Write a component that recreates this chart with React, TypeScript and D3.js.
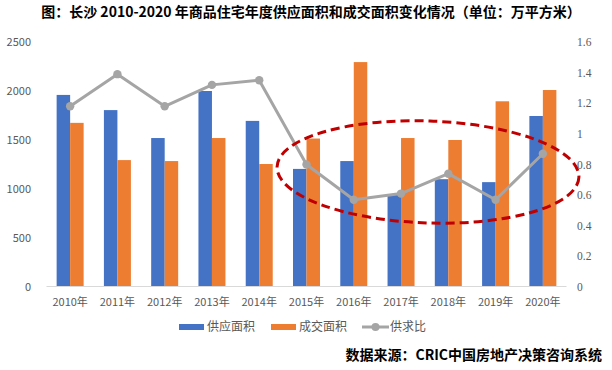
import React from 'react';
import * as d3 from 'd3';

const years = ['2010年', '2011年', '2012年', '2013年', '2014年', '2015年', '2016年', '2017年', '2018年', '2019年', '2020年'];
const supply = [1960, 1805, 1520, 2000, 1695, 1205, 1285, 940, 1100, 1070, 1745];
const deal = [1675, 1295, 1285, 1520, 1255, 1515, 2295, 1520, 1500, 1895, 2010];
const ratio = [1.18, 1.39, 1.18, 1.32, 1.35, 0.80, 0.57, 0.61, 0.74, 0.57, 0.87];
const leftTicks = [0, 500, 1000, 1500, 2000, 2500];
const rightTicks = [0, 0.2, 0.4, 0.6, 0.8, 1, 1.2, 1.4, 1.6];

const cjk = '"Noto Sans CJK SC", "Noto Sans", sans-serif';

const App = () => {
  const width = 612;
  const height = 370;
  const plot = { left: 46.5, right: 566.5, top: 42, bottom: 287 };

  const x = d3.scaleBand().domain(years).range([plot.left, plot.right]).paddingInner(0).paddingOuter(0);
  const yL = d3.scaleLinear().domain([0, 2500]).range([plot.bottom, plot.top]);
  const yR = d3.scaleLinear().domain([0, 1.6]).range([plot.bottom, plot.top]);
  const barW = 13.5;

  const line = d3.line<number>()
    .x((_, i) => (x(years[i]) as number) + x.bandwidth() / 2)
    .y(d => yR(d));

  const fmtR = (v: number) => (v === 0 || v === 1 ? String(v) : v.toFixed(1));

  return (
    <svg width={width} height={height} style={{ position: 'absolute', left: 0, top: 0, background: '#fff' }}>
      <text x={311} y={17} textAnchor="middle" fontFamily={cjk} fontWeight="bold" fontSize={14} fill="#000">
        图：长沙 2010-2020 年商品住宅年度供应面积和成交面积变化情况（单位：万平方米）
      </text>

      {leftTicks.map(t => (
        <text key={'l' + t} x={31} y={yL(t)} dy="0.35em" textAnchor="end" fontFamily={cjk} fontSize={11} fill="#595959">
          {t}
        </text>
      ))}
      {rightTicks.map(t => (
        <text key={'r' + t} x={577} y={yR(t)} dy="0.35em" textAnchor="start" fontFamily={'"Liberation Serif", serif'} fontSize={11.5} fill="#595959">
          {fmtR(t)}
        </text>
      ))}

      {years.map((yr, i) => {
        const cx = (x(yr) as number) + x.bandwidth() / 2;
        return (
          <g key={yr}>
            <rect x={cx - barW} y={yL(supply[i])} width={barW} height={plot.bottom - yL(supply[i])} fill="#4472C4" />
            <rect x={cx} y={yL(deal[i])} width={barW} height={plot.bottom - yL(deal[i])} fill="#ED7D31" />
            <text x={cx} y={302} dy="0.35em" textAnchor="middle" fontFamily={cjk} fontSize={11} fill="#595959">
              {yr}
            </text>
          </g>
        );
      })}

      <line x1={plot.left} x2={plot.right} y1={plot.bottom - 0.5} y2={plot.bottom - 0.5} stroke="#D9D9D9" strokeWidth={1} />

      <path d={line(ratio) || ''} fill="none" stroke="#A5A5A5" strokeWidth={3} strokeLinejoin="round" />
      {ratio.map((r, i) => (
        <circle key={i} cx={(x(years[i]) as number) + x.bandwidth() / 2} cy={yR(r)} r={4.2} fill="#A5A5A5" />
      ))}

      <ellipse cx={428} cy={172} rx={151} ry={51} fill="none" stroke="#C00000" strokeWidth={3} strokeDasharray="9,5" transform="rotate(2 428 172)" />

      <g fontFamily={cjk} fontSize={12} fill="#595959">
        <rect x={179} y={324} width={25} height={6} fill="#4472C4" />
        <text x={207} y={327} dy="0.35em">供应面积</text>
        <rect x={271} y={324} width={25} height={6} fill="#ED7D31" />
        <text x={299} y={327} dy="0.35em">成交面积</text>
        <line x1={362} x2={389} y1={327} y2={327} stroke="#A5A5A5" strokeWidth={3} />
        <circle cx={375.5} cy={327} r={4} fill="#A5A5A5" />
        <text x={390} y={327} dy="0.35em">供求比</text>
      </g>

      <text x={602} y={355} dy="0.35em" textAnchor="end" fontFamily={cjk} fontWeight="bold" fontSize={14} fill="#000">
        数据来源：CRIC中国房地产决策咨询系统
      </text>
    </svg>
  );
};

export default App;
